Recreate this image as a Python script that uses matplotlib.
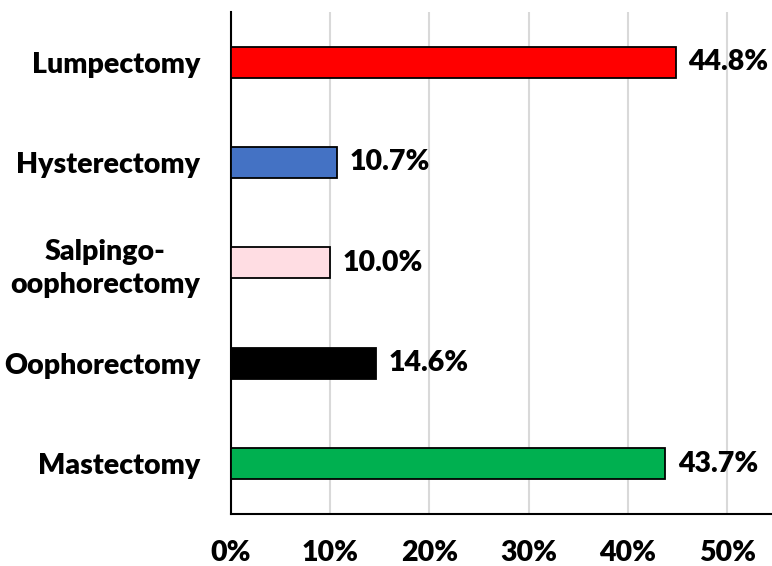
import matplotlib.pyplot as plt
from matplotlib.ticker import PercentFormatter

# procedimentos, de baixo para cima
procedimentos = ['Mastectomy', 'Oophorectomy', 'Salpingo-\noophorectomy', 'Hysterectomy', 'Lumpectomy']
percentuais = [43.7, 14.6, 10.0, 10.7, 44.8]
cores = ['#00B050', '#000000', '#FFDDE3', '#4472C4', '#FF0000']
marcas_x = [0, 10, 20, 30, 40, 50]

plt.rcParams['font.family'] = ['Lato', 'DejaVu Sans']
peso = 'heavy'
tam = 20.5

fig = plt.figure(figsize=(7.72, 5.66), dpi=100)
ax = fig.add_axes([0.299, 0.092, 0.701, 0.887])

pos = range(len(procedimentos))
ax.barh(pos, percentuais, height=0.31, color=cores, edgecolor='black', linewidth=1.3, zorder=3)

# rotulos com o valor de cada barra
for y, v in zip(pos, percentuais):
    ax.text(v + 1.3, y, f'{v:.1f}%', va='center', ha='left', fontsize=tam, fontweight=peso)

ax.set_xlim(0, 54.5)
ax.set_ylim(-0.5, len(procedimentos) - 0.5)
ax.set_xticks(marcas_x)
ax.xaxis.set_major_formatter(PercentFormatter(decimals=0))
ax.set_yticks(list(pos))
ax.set_yticklabels(procedimentos, multialignment='center', linespacing=1.3)
ax.tick_params(axis='both', length=0, labelsize=tam)
ax.tick_params(axis='x', pad=19)
ax.tick_params(axis='y', pad=22)
for lab in ax.get_xticklabels() + ax.get_yticklabels():
    lab.set_fontweight(peso)

ax.grid(axis='x', color='#D9D9D9', linewidth=1.5, zorder=0)
ax.spines['top'].set_visible(False)
ax.spines['right'].set_visible(False)
ax.spines['left'].set_linewidth(1.5)
ax.spines['bottom'].set_linewidth(1.5)

fig.savefig('out.png', dpi=100)
